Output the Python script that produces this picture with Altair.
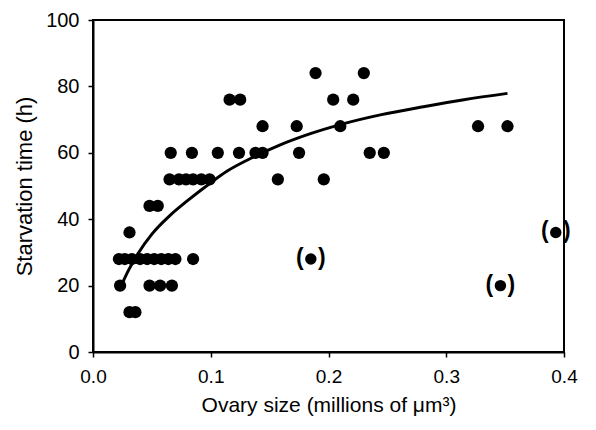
import altair as alt
import pandas as pd

# Scatter data (ovary size in millions of um^3, starvation time in h)
ovary = [
    0.023, 0.048, 0.057, 0.067,
    0.031, 0.036,
    0.022, 0.027, 0.033, 0.040, 0.046, 0.052, 0.058, 0.064, 0.070, 0.085,
    0.031,
    0.048, 0.055,
    0.065, 0.073, 0.079, 0.085, 0.092, 0.099, 0.157, 0.196,
    0.066, 0.084, 0.106, 0.124, 0.138, 0.144, 0.175, 0.235, 0.247,
    0.144, 0.173, 0.210, 0.327, 0.352,
    0.116, 0.125, 0.204, 0.221,
    0.189, 0.230,
]
starv = [
    20, 20, 20, 20,
    12, 12,
    28, 28, 28, 28, 28, 28, 28, 28, 28, 28,
    36,
    44, 44,
    52, 52, 52, 52, 52, 52, 52, 52,
    60, 60, 60, 60, 60, 60, 60, 60, 60,
    68, 68, 68, 68, 68,
    76, 76, 76, 76,
    84, 84,
]

# Excluded points (shown in parentheses)
out_x = [0.185, 0.346, 0.393]
out_y = [28, 20, 36]

# Fitted curve
fit_x = [0.024, 0.03, 0.038, 0.05, 0.065, 0.08, 0.1, 0.114, 0.135, 0.159,
         0.184, 0.21, 0.245, 0.278, 0.315, 0.352]
fit_y = [20, 24.5, 29.5, 35.5, 41, 45.5, 51, 54.5, 58.5, 62.4,
         65.7, 68.5, 71.5, 73.7, 76, 77.9]

pts = pd.DataFrame({"x": ovary, "y": starv})
outs = pd.DataFrame({"x": out_x, "y": out_y})
fit = pd.DataFrame({"x": fit_x, "y": fit_y})

FONT = "Liberation Sans"

xscale = alt.Scale(domain=[0, 0.4], nice=False, zero=True)
yscale = alt.Scale(domain=[0, 100], nice=False)

xax = alt.Axis(
    title="Ovary size (millions of μm³)",
    values=[0, 0.1, 0.2, 0.3, 0.4], format=".1f",
    grid=False, tickSize=5, labelPadding=10, titlePadding=8,
    labelFontSize=19, titleFontSize=21, labelColor="black", titleColor="black",
    labelFont=FONT, titleFont=FONT, titleFontWeight="normal",
    domainColor="black", domainWidth=2, tickColor="black", tickWidth=1.5,
    labelFlush=False,
)
yax = alt.Axis(
    title="Starvation time (h)",
    values=[0, 20, 40, 60, 80, 100],
    grid=False, tickSize=5, labelPadding=9, titlePadding=9,
    labelFontSize=20, titleFontSize=22, labelColor="black", titleColor="black",
    labelFont=FONT, titleFont=FONT, titleFontWeight="normal",
    domainColor="black", domainWidth=2, tickColor="black", tickWidth=1.5,
    labelFlush=False,
)

base_x = alt.X("x:Q", scale=xscale, axis=xax)
base_y = alt.Y("y:Q", scale=yscale, axis=yax)

scatter = alt.Chart(pts).mark_circle(size=150, color="black", opacity=1).encode(
    x=base_x, y=base_y
)
line = alt.Chart(fit).mark_line(color="black", strokeWidth=3, interpolate="monotone").encode(
    x="x:Q", y="y:Q"
)
out_pts = alt.Chart(outs).mark_circle(size=130, color="black", opacity=1).encode(
    x="x:Q", y="y:Q"
)
lpar = alt.Chart(outs).mark_text(text="(", fontSize=23, font=FONT, fontWeight="bold",
                                 dx=-11, dy=-1, color="black").encode(x="x:Q", y="y:Q")
rpar = alt.Chart(outs).mark_text(text=")", fontSize=23, font=FONT, fontWeight="bold",
                                 dx=11, dy=-1, color="black").encode(x="x:Q", y="y:Q")

chart = alt.layer(scatter, line, out_pts, lpar, rpar).properties(
    width=471, height=332,
    autosize=alt.AutoSizeParams(type="none"),
    padding={"left": 85, "top": 12, "right": 20, "bottom": 72},
    background="white",
).configure_view(stroke="black", strokeWidth=2)

chart.save("out.html", embed_options={"renderer": "svg", "actions": False})
